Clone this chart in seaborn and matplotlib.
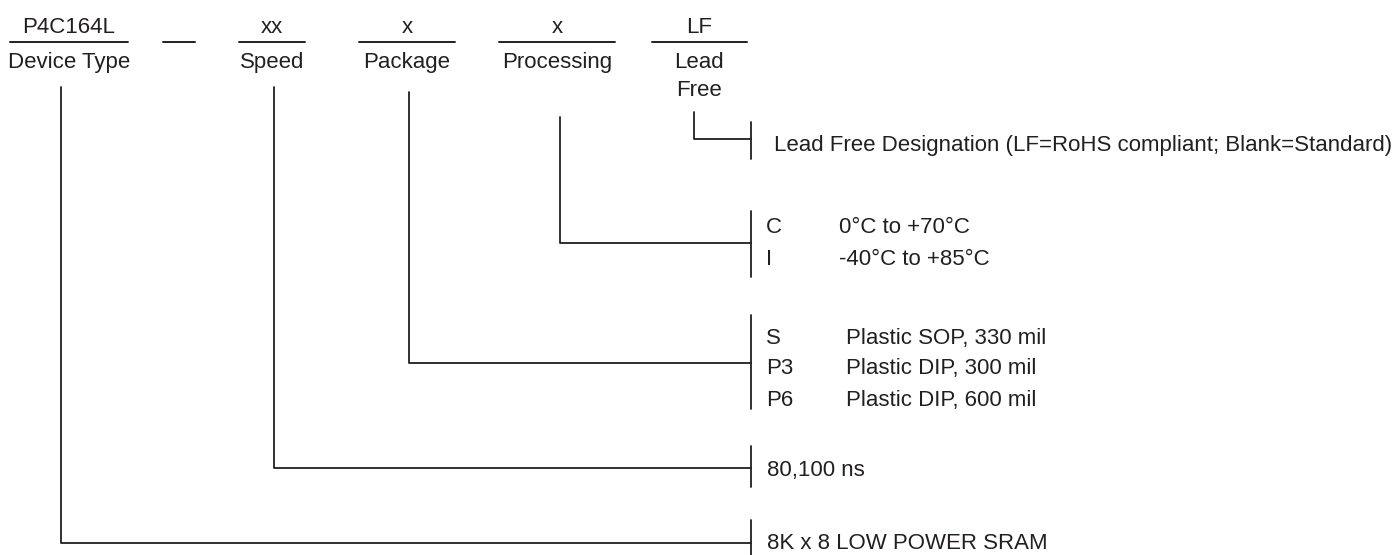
import matplotlib
matplotlib.use("Agg")
import matplotlib.pyplot as plt
import seaborn as sns

# --- contenuto del diagramma (ordering information) ---
part_fields = ["P4C164L", "xx", "x", "x", "LF"]
field_names = ["Device Type", "Speed", "Package", "Processing", "Lead\nFree"]

leadfree_desc = ["Lead Free Designation (LF=RoHS compliant; Blank=Standard)"]
proc_codes = ["C", "I"]
proc_desc = ["0°C to +70°C", "-40°C to +85°C"]
pkg_codes = ["S", "P3", "P6"]
pkg_desc = ["Plastic SOP, 330 mil", "Plastic DIP, 300 mil", "Plastic DIP, 600 mil"]
speed_desc = ["80,100 ns"]
device_desc = ["8K x 8 LOW POWER SRAM"]

# --- layout (pixel) ---
field_x = [69, 272, 407, 557, 699]
underline = [(10, 128), (239, 305), (359, 455), (499, 615), (652, 747)]
dash = (163, 195)
stem_x = [61, 274, 409, 560, 694]
stem_top = [87, 87, 92, 117, 112]

ink = "#231f20"
fs = 16

sns.set_theme(style="white")
plt.rcParams["font.family"] = ["Liberation Sans", "DejaVu Sans"]

fig = plt.figure(figsize=(13.93, 5.55), dpi=100)
ax = fig.add_axes([0, 0, 1, 1])
ax.set_xlim(0, 1393)
ax.set_ylim(555, 0)
ax.axis("off")

# intestazione: campi del codice, sottolineatura e nome del campo
for i in range(len(part_fields)):
    ax.text(field_x[i], 25, part_fields[i], ha="center", va="center_baseline", fontsize=fs, color=ink)
    ax.plot(underline[i], [42, 42], color=ink, lw=1.4)
    for j, part in enumerate(field_names[i].split("\n")):
        ax.text(field_x[i], 60 + 28 * j, part, ha="center", va="center_baseline", fontsize=fs, color=ink)
ax.plot(dash, [42, 42], color=ink, lw=1.4)

# gruppi: (indice stelo, y orizzontale, x parentesi, y0, y1, righe, y righe)
groups = [
    (4, 139, 751, 122, 159, [("", leadfree_desc[0])], [143]),
    (3, 243, 751, 211, 277, list(zip(proc_codes, proc_desc)), [225, 257]),
    (2, 363, 751, 315, 409, list(zip(pkg_codes, pkg_desc)), [336, 366, 398]),
    (1, 468, 751, 446, 487, [("", speed_desc[0])], [468]),
    (0, 543, 751, 520, 556, [("", device_desc[0])], [541]),
]
desc_x = {3: 839, 2: 846}

for idx, yh, bx, y0, y1, rows, ys in groups:
    sx = stem_x[idx]
    ax.plot([sx, sx, bx], [stem_top[idx], yh, yh], color=ink, lw=1.3)
    ax.plot([bx, bx], [y0, y1], color=ink, lw=1.3)
    for (code, desc), y in zip(rows, ys):
        if code:
            ax.text(766, y, code, ha="left", va="center_baseline", fontsize=fs, color=ink)
            ax.text(desc_x[idx], y, desc, ha="left", va="center_baseline", fontsize=fs, color=ink)
        else:
            ax.text(774 if idx == 4 else 767, y, desc, ha="left", va="center_baseline", fontsize=fs, color=ink)

fig.savefig("out.png", dpi=100, facecolor="white")
